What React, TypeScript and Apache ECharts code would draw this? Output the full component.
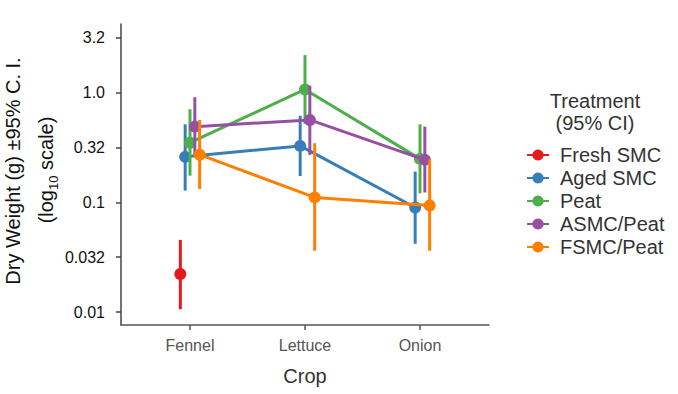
import React, { useEffect, useRef } from "react";
import * as echarts from "echarts";

const categories = ["Fennel", "Lettuce", "Onion"];
const treatments = ["Fresh SMC", "Aged SMC", "Peat", "ASMC/Peat", "FSMC/Peat"];
const colors = ["#e41a1c", "#377eb8", "#4daf4a", "#984ea3", "#ff7f00"];

// Dry weight (g) means and 95% CI bounds, per crop (Fennel, Lettuce, Onion)
const freshSmcMean = [0.0222, null, null];
const freshSmcLow = [0.0106, null, null];
const freshSmcHigh = [0.0455, null, null];

const agedSmcMean = [0.26, 0.327, 0.0897];
const agedSmcLow = [0.128, 0.174, 0.0419];
const agedSmcHigh = [0.515, 0.617, 0.191];

const peatMean = [0.35, 1.07, 0.249];
const peatLow = [0.175, 0.52, 0.121];
const peatHigh = [0.706, 2.2, 0.515];

const asmcPeatMean = [0.49, 0.564, 0.244];
const asmcPeatLow = [0.271, 0.271, 0.123];
const asmcPeatHigh = [0.908, 1.16, 0.49];

const fsmcPeatMean = [0.272, 0.111, 0.0935];
const fsmcPeatLow = [0.132, 0.0362, 0.0362];
const fsmcPeatHigh = [0.564, 0.346, 0.247];

const tickValues = [0.01, 0.0316, 0.1, 0.316, 1.0, 3.16];
const tickLabels = ["0.01", "0.032", "0.1", "0.32", "1.0", "3.2"];

const means = [freshSmcMean, agedSmcMean, peatMean, asmcPeatMean, fsmcPeatMean];
const lows = [freshSmcLow, agedSmcLow, peatLow, asmcPeatLow, fsmcPeatLow];
const highs = [freshSmcHigh, agedSmcHigh, peatHigh, asmcPeatHigh, fsmcPeatHigh];

const FONT = "'Liberation Sans', Arial, sans-serif";
const dodgeStep = 0.042;

export default function App() {
  const ref = useRef<HTMLDivElement>(null);

  useEffect(() => {
    if (!ref.current) return;
    const chart = echarts.init(ref.current, null, { renderer: "svg" });
    const tickPos = tickValues.map((v) => Math.log10(v));

    const series: any[] = [];
    treatments.forEach((name, j) => {
      const off = (j - 2) * dodgeStep;
      const lineData: number[][] = [];
      const ciData: number[][] = [];
      categories.forEach((_, i) => {
        const m = means[j][i];
        if (m == null) return;
        lineData.push([i + off, Math.log10(m)]);
        ciData.push([i + off, Math.log10(lows[j][i] as number), Math.log10(highs[j][i] as number)]);
      });
      const color = colors[j];
      series.push({
        type: "custom",
        name: name + " CI",
        z: 2 + j * 2,
        data: ciData,
        encode: { x: 0, y: [1, 2] },
        renderItem: (params: any, api: any) => {
          const x = api.value(0);
          const p1 = api.coord([x, api.value(1)]);
          const p2 = api.coord([x, api.value(2)]);
          return {
            type: "line",
            shape: { x1: p1[0], y1: p1[1], x2: p2[0], y2: p2[1] },
            style: { stroke: color, lineWidth: 3 },
          };
        },
        silent: true,
      });
      series.push({
        type: "line",
        name,
        z: 3 + j * 2,
        data: lineData,
        symbol: "circle",
        symbolSize: 12,
        showSymbol: true,
        lineStyle: { color, width: 3 },
        itemStyle: { color },
        emphasis: { disabled: true },
      });
    });

    chart.setOption({
      animation: false,
      grid: { left: 121, right: 189, top: 24, bottom: 69 },
      xAxis: {
        type: "value",
        min: -0.6,
        max: 2.6,
        name: "Crop",
        nameLocation: "middle",
        nameGap: 41,
        nameTextStyle: { fontSize: 20, color: "#333", fontFamily: FONT },
        splitLine: { show: false },
        axisLine: { show: true, onZero: false, lineStyle: { color: "#555", width: 1.5 } },
        axisTick: { show: true, length: 5, customValues: [0, 1, 2], lineStyle: { color: "#555", width: 1.5 } },
        axisLabel: {
          customValues: [0, 1, 2],
          formatter: (v: number) => categories[Math.round(v)] ?? "",
          fontSize: 16,
          color: "#555",
          fontFamily: FONT,
          margin: 12,
        },
      },
      yAxis: {
        type: "value",
        min: -2.118,
        max: 0.626,
        splitLine: { show: false },
        axisLine: { show: true, onZero: false, lineStyle: { color: "#444", width: 1.5 } },
        axisTick: { show: true, length: 5, customValues: tickPos, lineStyle: { color: "#444", width: 1.5 } },
        axisLabel: {
          customValues: tickPos,
          formatter: (v: number) => {
            let best = 0;
            tickPos.forEach((p, k) => {
              if (Math.abs(p - v) < Math.abs(tickPos[best] - v)) best = k;
            });
            return tickLabels[best];
          },
          fontSize: 16,
          color: "#111",
          fontFamily: FONT,
          margin: 16,
        },
      },
      legend: {
        data: treatments,
        orient: "vertical",
        left: 521,
        top: 140,
        itemWidth: 22,
        itemHeight: 14,
        itemGap: 3,
        selectedMode: false,
        textStyle: { fontSize: 20, color: "#333", fontFamily: FONT, padding: [0, 0, 0, 6] },
      },
      graphic: [
        {
          type: "text",
          x: 595,
          y: 112,
          style: {
            text: "Treatment\n(95% CI)",
            align: "center",
            verticalAlign: "middle",
            fontSize: 20,
            lineHeight: 22,
            fill: "#333",
            fontFamily: FONT,
          },
        },
        {
          type: "text",
          x: 13,
          y: 171,
          rotation: Math.PI / 2,
          style: {
            text: "Dry Weight (g) ±95% C. I.",
            align: "center",
            verticalAlign: "middle",
            fontSize: 20,
            fill: "#111",
            fontFamily: FONT,
          },
        },
        {
          type: "text",
          x: 46,
          y: 170,
          rotation: Math.PI / 2,
          style: {
            text: "(log{sub|10} scale)",
            align: "center",
            verticalAlign: "middle",
            fontSize: 20,
            lineHeight: 27,
            fill: "#111",
            fontFamily: FONT,
            rich: {
              sub: { fontSize: 13, verticalAlign: "bottom", fill: "#111", fontFamily: FONT },
            },
          },
        },
      ],
      series,
    });

    return () => chart.dispose();
  }, []);

  return <div ref={ref} style={{ width: 678, height: 394, position: "absolute", left: 0, top: 0 }} />;
}
